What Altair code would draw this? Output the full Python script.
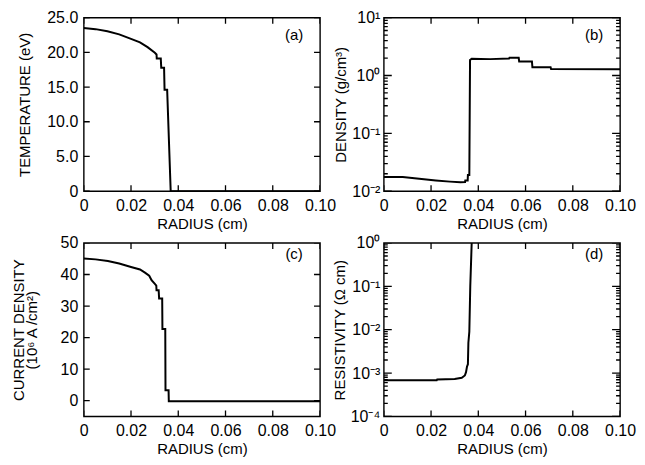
import math
import altair as alt
import pandas as pd

# ---------------- data ----------------
# (a) temperature
r_a = [0, 0.005, 0.010, 0.015, 0.020, 0.0238, 0.027, 0.0301, 0.0308, 0.0309,
       0.0326, 0.0328, 0.0340, 0.0342, 0.0353, 0.0368, 0.100]
t_a = [23.5, 23.35, 23.05, 22.6, 21.95, 21.45, 20.75, 19.95, 19.7, 19.1,
       19.1, 17.8, 17.8, 14.6, 14.6, 0.0, 0.0]

# (b) density
r_b = [0, 0.008, 0.015, 0.022, 0.028, 0.0324, 0.0344, 0.0345, 0.0355, 0.0356,
       0.0362, 0.0365, 0.0372, 0.045, 0.053, 0.0532, 0.0571, 0.0573, 0.0627,
       0.0629, 0.0706, 0.0708, 0.100]
d_b = [0.0176, 0.0175, 0.0163, 0.0153, 0.0146, 0.0142, 0.0144, 0.0153, 0.0153,
       0.019, 0.019, 1.85, 1.95, 1.92, 1.96, 2.02, 2.02, 1.75, 1.75, 1.39, 1.39,
       1.30, 1.28]

# (c) current density
r_c = [0, 0.005, 0.0102, 0.015, 0.020, 0.0238, 0.0259, 0.0277, 0.0287, 0.0301,
       0.0307, 0.0308, 0.0317, 0.0319, 0.0332, 0.0333, 0.0345, 0.0346, 0.0359,
       0.0360, 0.100]
j_c = [45.1, 44.8, 44.3, 43.5, 42.4, 41.6, 40.6, 39.6, 38.2, 37.0, 36.5, 35.0,
       35.0, 32.4, 32.4, 22.7, 22.7, 3.3, 3.3, -0.2, -0.2]

# (d) resistivity
r_d = [0, 0.010, 0.0224, 0.0226, 0.030, 0.033, 0.0343, 0.0348, 0.0352, 0.0356,
       0.0358, 0.0362, 0.0366, 0.0372, 0.0376]
e_d = [6.8e-4, 6.8e-4, 6.8e-4, 7.1e-4, 7.3e-4, 7.8e-4, 8.8e-4, 1.05e-3, 1.4e-3,
       1.6e-3, 5e-3, 9e-3, 0.1, 1.0, 3.0]

x_ticks = [0, 0.02, 0.04, 0.06, 0.08, 0.10]
y_ticks_a = [0, 5, 10, 15, 20, 25]
y_ticks_c = [0, 10, 20, 30, 40, 50]
y_major_b = [0.01, 0.1, 1, 10]
y_major_d = [0.0001, 0.001, 0.01, 0.1, 1]
minor_mult = [2, 3, 4, 5, 6, 7, 8, 9]
labels = ["(a)", "(b)", "(c)", "(d)"]

# ---------------- styling ----------------
FONT = "Liberation Sans"
W, H = 237, 174
LBL = 16
TTL = 15
TW = 1.3
XDOM = [0, 0.1]

XSCALE = alt.Scale(domain=XDOM, nice=False)
SUP = ("['10\u207b\u2074','10\u207b\u00b3','10\u207b\u00b2','10\u207b\u00b9',"
       "'10\u2070','10\u00b9'][round(log(datum.value)/LN10)+4]")


def x_axis():
    return alt.Axis(
        title="RADIUS (cm)", values=x_ticks,
        labelExpr="datum.value == 0 ? '0' : format(datum.value, '.2f')",
        grid=False, ticks=False, tickSize=0, domain=False,
        labelPadding=6, titlePadding=3, labelFlush=False, labelOverlap=False,
    )


def y_axis(title, ticks, fmt, lpad, tpad):
    return alt.Axis(title=title, values=ticks, labelExpr=fmt, grid=False,
                    ticks=False, tickSize=0, domain=False, labelPadding=lpad,
                    titlePadding=tpad, labelFlush=False, labelOverlap=False,
                    titleLineHeight=13)


def build_frame(r, v, ydom, log, ymajor, yminor):
    """Curve plus inward tick segments (ticks derived from the tick arrays)."""
    rows = []
    for k, (x, y) in enumerate(zip(r, v)):
        rows.append({"r": x, "v": y, "i": k, "seg": "curve", "w": 2.0})

    dx_per_px = (XDOM[1] - XDOM[0]) / W

    def y_shift(y0, px, up):
        if log:
            dec = math.log10(ydom[1]) - math.log10(ydom[0])
            f = 10 ** (dec * px / H)
            return y0 * f if up else y0 / f
        span = ydom[1] - ydom[0]
        return y0 + (span * px / H) * (1 if up else -1)

    n = 0

    def seg(p0, p1):
        nonlocal n
        n += 1
        rows.append({"r": p0[0], "v": p0[1], "i": 0, "seg": f"t{n}", "w": TW})
        rows.append({"r": p1[0], "v": p1[1], "i": 1, "seg": f"t{n}", "w": TW})

    for vals, px in ((ymajor, 8 if log else 6), (yminor, 4)):
        for t in vals:
            seg((XDOM[0], t), (XDOM[0] + px * dx_per_px, t))
            seg((XDOM[1] - px * dx_per_px, t), (XDOM[1], t))
    for t in x_ticks:
        seg((t, ydom[0]), (t, y_shift(ydom[0], 6, True)))
        seg((t, ydom[1]), (t, y_shift(ydom[1], 6, False)))
    return pd.DataFrame(rows)


def text_layer(t, yv):
    return alt.Chart(pd.DataFrame({"t": [t]})).mark_text(
        font=FONT, fontSize=TTL, color="black"
    ).encode(text="t:N", x=alt.value(W - 26), y=alt.value(yv))


def panel(r, v, ydom, log, ymajor, yminor, yaxis, label, ly):
    df = build_frame(r, v, ydom, log, ymajor, yminor)
    if log:
        yscale = alt.Scale(type="log", domain=ydom, nice=False)
    else:
        yscale = alt.Scale(domain=ydom, nice=False, zero=False)
    lines = alt.Chart(df).mark_line(color="black", clip=True).encode(
        x=alt.X("r:Q", scale=XSCALE, axis=x_axis()),
        y=alt.Y("v:Q", scale=yscale, axis=yaxis),
        detail="seg:N",
        order="i:Q",
        strokeWidth=alt.StrokeWidth("w:Q", scale=None, legend=None),
    )
    return alt.layer(lines, text_layer(label, ly)).properties(width=W, height=H)


def minors_of(majors):
    return [m * b for b in majors[:-1] for m in minor_mult]


pa = panel(r_a, t_a, [0, 25], False, y_ticks_a, [],
           y_axis("TEMPERATURE (eV)", y_ticks_a,
                  "datum.value == 0 ? '0' : format(datum.value, '.1f')", 6, 14),
           labels[0], 17)
pb = panel(r_b, d_b, [0.01, 10], True, y_major_b, minors_of(y_major_b),
           y_axis("DENSITY (g/cm\u00b3)", y_major_b, SUP, 4, 3), labels[1], 17)
pc = panel(r_c, j_c, [-5, 50], False, y_ticks_c, [],
           y_axis(["CURRENT DENSITY", "(10\u2076 A /cm\u00b2)"], y_ticks_c,
                  "format(datum.value, 'd')", 6, 21),
           labels[2], 11)
pd_ = panel(r_d, e_d, [0.0001, 1], True, y_major_d, minors_of(y_major_d),
            y_axis("RESISTIVITY (\u03a9 cm)", y_major_d, SUP, 4, 3), labels[3], 11)

chart = alt.concat(pa, pb, pc, pd_, columns=2, bounds="flush",
                   spacing={"row": 52, "column": 64}).properties(
    padding={"left": 2, "top": 0, "right": 0, "bottom": 0}
).configure_view(
    stroke="black", strokeWidth=1.4
).configure_axis(
    labelFont=FONT, titleFont=FONT, labelFontSize=LBL, titleFontSize=TTL,
    labelColor="black", titleColor="black", titleFontWeight="normal",
)

chart.save("out.html", embed_options={"renderer": "svg", "actions": False})
